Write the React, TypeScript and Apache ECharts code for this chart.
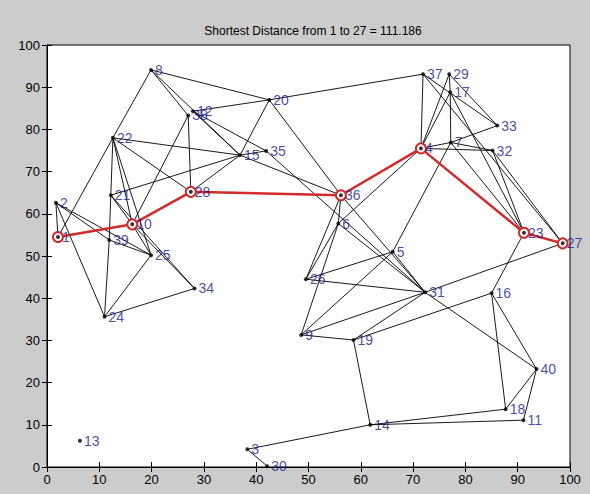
import React, { useEffect, useRef } from "react";
import * as echarts from "echarts";

const nodeIds = [1, 2, 3, 4, 5, 6, 7, 8, 9, 10, 11, 12, 13, 14, 15, 16, 17, 18, 19, 20, 21, 22, 23, 24, 25, 26, 27, 28, 29, 30, 31, 32, 33, 34, 35, 36, 37, 38, 39, 40];
const nodeX = [2.1, 1.7, 38.3, 71.5, 66.1, 55.7, 77.2, 19.9, 48.6, 16.3, 91.1, 27.9, 6.3, 61.8, 36.9, 85.0, 77.1, 87.7, 58.6, 42.5, 12.2, 12.6, 91.2, 11.0, 19.9, 49.5, 98.6, 27.5, 76.9, 42.1, 72.3, 85.2, 86.1, 28.2, 41.9, 56.2, 71.9, 27.0, 11.9, 93.6];
const nodeY = [54.5, 62.6, 4.2, 75.5, 51.0, 57.7, 76.9, 94.1, 31.3, 57.5, 11.1, 84.3, 6.2, 10.0, 73.9, 41.2, 88.8, 13.7, 30.1, 87.0, 64.4, 78.0, 55.5, 35.6, 50.2, 44.5, 53.0, 65.2, 93.1, 0.2, 41.4, 75.0, 80.9, 42.3, 74.9, 64.4, 93.1, 83.3, 53.8, 23.2];

const edges: [number, number][] = [
  [1, 2], [1, 22], [2, 24], [2, 25], [2, 39], [8, 22], [8, 20], [8, 38], [8, 15],
  [22, 21], [22, 10], [22, 25], [22, 28], [22, 15], [21, 39], [39, 24], [39, 25],
  [21, 10], [21, 34], [21, 15], [10, 25], [10, 34], [10, 38], [24, 25], [24, 34],
  [38, 28], [12, 20], [12, 15], [12, 35], [28, 15], [20, 15], [20, 37], [20, 36],
  [15, 35], [15, 36], [35, 31], [36, 6], [36, 26], [36, 31], [6, 26], [6, 9], [6, 4],
  [6, 31], [26, 5], [26, 31], [9, 5], [9, 31], [9, 19], [19, 31], [19, 16], [19, 14],
  [5, 31], [5, 7], [31, 27], [31, 40], [16, 23], [16, 18], [16, 40], [40, 18], [40, 11],
  [18, 14], [11, 14], [14, 3], [3, 30], [37, 4], [37, 33], [37, 27], [29, 4], [29, 17],
  [29, 33], [17, 4], [17, 7], [17, 23], [4, 7], [4, 32], [7, 33], [7, 32], [7, 23],
  [32, 23], [32, 27], [1, 10], [10, 28], [28, 36], [36, 4], [4, 23], [23, 27],
];

const shortestPath = [1, 10, 28, 36, 4, 23, 27];
const axisTicks = [0, 10, 20, 30, 40, 50, 60, 70, 80, 90, 100];
const titleText = "Shortest Distance from 1 to 27 = 111.186";

const pos = (id: number): [number, number] => {
  const i = nodeIds.indexOf(id);
  return [nodeX[i], nodeY[i]];
};

export default function App() {
  const ref = useRef<HTMLDivElement>(null);
  useEffect(() => {
    if (!ref.current) return;
    const chart = echarts.init(ref.current, undefined, { renderer: "svg" });
    const font = "'Liberation Sans', Arial, sans-serif";
    const baseAxis = {
      type: "value" as const,
      min: axisTicks[0],
      max: axisTicks[axisTicks.length - 1],
      interval: 10,
      splitLine: { show: false },
      axisLine: { show: true, lineStyle: { color: "#000", width: 1 } },
      axisTick: { show: true, inside: true, length: 5, lineStyle: { color: "#000" } },
    };
    chart.setOption({
      animation: false,
      backgroundColor: "#cccccc",
      title: {
        text: titleText,
        left: 308,
        textAlign: "center",
        top: 20,
        textStyle: { fontFamily: font, fontSize: 12, fontWeight: "normal", color: "#000" },
      },
      grid: {
        left: 47,
        top: 45,
        right: 20,
        bottom: 27,
        show: true,
        backgroundColor: "#ffffff",
        borderColor: "#000",
        borderWidth: 1,
      },
      xAxis: [
        {
          ...baseAxis,
          position: "bottom",
          axisLabel: { fontFamily: font, fontSize: 13, color: "#000", margin: 6 },
        },
        { ...baseAxis, position: "top", axisLabel: { show: false } },
      ],
      yAxis: [
        {
          ...baseAxis,
          position: "left",
          axisLabel: { fontFamily: font, fontSize: 13, color: "#000", margin: 7 },
        },
        { ...baseAxis, position: "right", axisLabel: { show: false } },
      ],
      series: [
        {
          type: "lines",
          coordinateSystem: "cartesian2d",
          xAxisIndex: 0,
          yAxisIndex: 0,
          silent: true,
          z: 2,
          lineStyle: { color: "#000", width: 0.9, opacity: 1 },
          data: edges.map(([a, b]) => ({ coords: [pos(a), pos(b)] })),
        },
        {
          type: "line",
          xAxisIndex: 0,
          yAxisIndex: 0,
          z: 3,
          data: shortestPath.map((id) => pos(id)),
          lineStyle: { color: "#d42a2a", width: 2.5 },
          symbol: "emptyCircle",
          symbolSize: 10,
          itemStyle: { color: "#d42a2a", borderColor: "#d42a2a", borderWidth: 1.6 },
        },
        {
          type: "scatter",
          xAxisIndex: 0,
          yAxisIndex: 0,
          z: 4,
          symbol: "circle",
          symbolSize: 4,
          itemStyle: { color: "#000" },
          data: nodeIds.map((id) => ({ value: pos(id), name: String(id) })),
          label: {
            show: true,
            position: "right",
            distance: 2,
            formatter: (p: any) => p.name,
            fontFamily: font,
            fontSize: 14,
            color: "#1a1a8e",
          },
        },
      ],
    });
    return () => chart.dispose();
  }, []);
  return (
    <div
      ref={ref}
      style={{ position: "fixed", left: 0, top: 0, width: 590, height: 494 }}
    />
  );
}
